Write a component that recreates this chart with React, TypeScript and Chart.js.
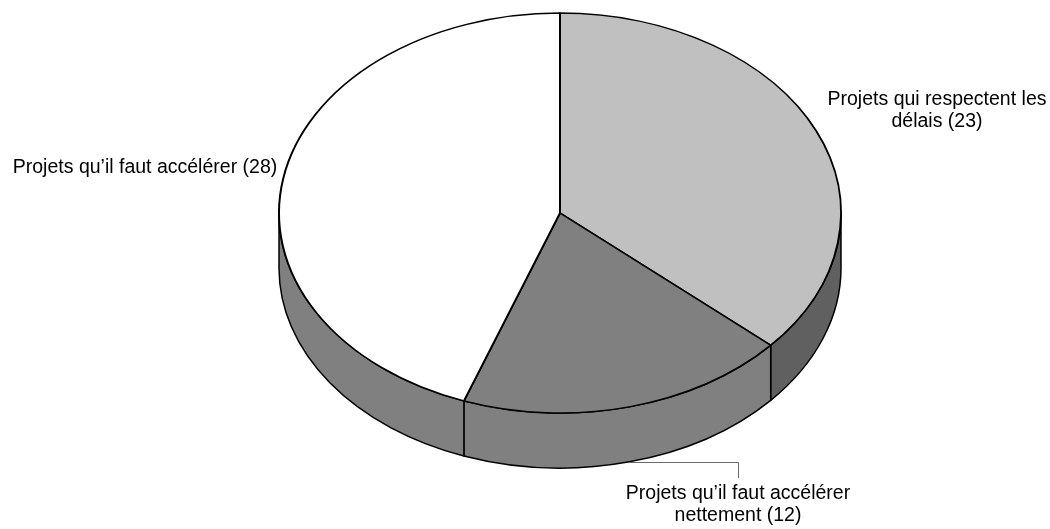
import React, { useEffect, useRef } from "react";
import { Chart, registerables } from "chart.js";

Chart.register(...registerables);

// ---- data ----
const categories = [
  "Projets qui respectent les délais",
  "Projets qu’il faut accélérer nettement",
  "Projets qu’il faut accélérer",
];
const values = [23, 12, 28];
const topColors = ["#C0C0C0", "#808080", "#FFFFFF"];
const sideColors = ["#606060", "#808080", "#808080"];
const labelLines = [
  ["Projets qui respectent les", "délais (23)"],
  ["Projets qu’il faut accélérer", "nettement (12)"],
  ["Projets qu’il faut accélérer (28)"],
];

// ---- look ----
const W = 1050;
const H = 529;
const RADIUS = 281;
const TILT = 200 / 281;
const DEPTH = 55;
const FONT = "19.5px 'Liberation Sans', Arial, sans-serif";
const LINE_H = 22;
// label anchor: x center, baseline of first line
const labelPos = [
  { x: 937, y: 105 },
  { x: 738, y: 499 },
  { x: 145, y: 173 },
];

const pie3d = {
  id: "pie3d",
  beforeDatasetsDraw(chart: any) {
    const ctx = chart.ctx as CanvasRenderingContext2D;
    const arcs = chart.getDatasetMeta(0).data as any[];
    if (!arcs.length) return;
    const cx = arcs[0].x;
    const cy = arcs[0].y;
    const r = arcs[0].outerRadius;
    const ry = r * TILT;
    ctx.save();
    ctx.lineWidth = 1.5;
    ctx.strokeStyle = "#000";
    ctx.lineJoin = "round";
    arcs.forEach((arc, i) => {
      const a1 = arc.startAngle;
      const a2 = arc.endAngle;
      for (let k = -1; k <= 1; k++) {
        const lo = Math.max(a1, 2 * Math.PI * k);
        const hi = Math.min(a2, 2 * Math.PI * k + Math.PI);
        if (lo >= hi) continue;
        ctx.beginPath();
        ctx.ellipse(cx, cy, r, ry, 0, lo, hi, false);
        ctx.lineTo(cx + r * Math.cos(hi), cy + ry * Math.sin(hi) + DEPTH);
        ctx.ellipse(cx, cy + DEPTH, r, ry, 0, hi, lo, true);
        ctx.closePath();
        ctx.fillStyle = sideColors[i];
        ctx.fill();
        ctx.stroke();
      }
    });
    ctx.restore();
    ctx.save();
    ctx.translate(0, cy);
    ctx.scale(1, TILT);
    ctx.translate(0, -cy);
  },
  afterDatasetsDraw(chart: any) {
    chart.ctx.restore();
  },
  afterDraw(chart: any) {
    const ctx = chart.ctx as CanvasRenderingContext2D;
    const arcs = chart.getDatasetMeta(0).data as any[];
    if (!arcs.length) return;
    const cx = arcs[0].x;
    const cy = arcs[0].y;
    const r = arcs[0].outerRadius;
    const ry = r * TILT;
    ctx.save();
    // leader line for the small slice
    const a = arcs[1];
    const mid = (a.startAngle + a.endAngle) / 2;
    const sx = cx + r * Math.cos(mid);
    const sy = cy + ry * Math.sin(mid) + DEPTH;
    ctx.strokeStyle = "#6A6A6A";
    ctx.lineWidth = 1;
    ctx.beginPath();
    ctx.moveTo(sx, Math.round(sy) + 0.5);
    ctx.lineTo(labelPos[1].x + 0.5, Math.round(sy) + 0.5);
    ctx.lineTo(labelPos[1].x + 0.5, labelPos[1].y - 21);
    ctx.stroke();

    ctx.fillStyle = "#000";
    ctx.font = FONT;
    ctx.textAlign = "center";
    ctx.textBaseline = "alphabetic";
    labelLines.forEach((lines, i) => {
      lines.forEach((t, j) => {
        ctx.fillText(t, labelPos[i].x, labelPos[i].y + j * LINE_H);
      });
    });
    ctx.restore();
  },
};

export default function App() {
  const ref = useRef<HTMLCanvasElement>(null);
  useEffect(() => {
    document.body.style.margin = "0";
    const canvas = ref.current!;
    const chart = new Chart(canvas, {
      type: "pie",
      data: {
        labels: categories,
        datasets: [
          {
            data: values,
            backgroundColor: topColors,
            borderColor: "#000",
            borderWidth: 2,
            borderAlign: "center",
          } as any,
        ],
      },
      options: {
        responsive: false,
        animation: false,
        events: [],
        radius: RADIUS,
        layout: { padding: { left: 70, right: 0, top: 0, bottom: 103 } },
        plugins: {
          legend: { display: false },
          tooltip: { enabled: false },
        },
      } as any,
      plugins: [pie3d],
    });
    return () => chart.destroy();
  }, []);
  return (
    <div style={{ position: "fixed", left: 0, top: 0, width: W, height: H, background: "#fff" }}>
      <canvas ref={ref} width={W} height={H} style={{ display: "block", width: W, height: H }} />
    </div>
  );
}
